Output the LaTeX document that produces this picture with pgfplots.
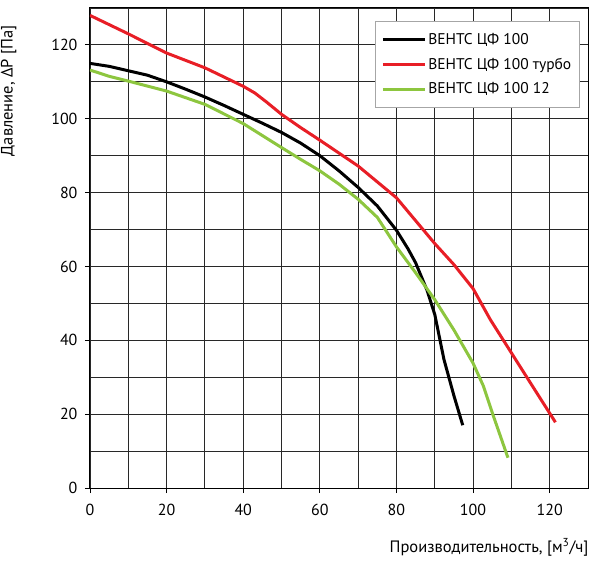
\documentclass[border=0pt]{standalone}
\usepackage{pgfplots}
\pgfplotsset{compat=1.18}
\usepackage{fontspec}
\setmainfont{PT Sans}
\definecolor{cred}{RGB}{232,30,38}
\definecolor{cgreen}{RGB}{141,198,63}
\definecolor{cgrid}{RGB}{40,40,40}
\begin{document}
\begin{tikzpicture}
\path[use as bounding box] (-90pt,-72pt) rectangle (510pt,488pt);
\begin{axis}[
  at={(0pt,0pt)}, anchor=south west,
  scale only axis, width=498pt, height=480pt,
  xmin=0, xmax=130, ymin=0, ymax=130,
  xtick={0,20,...,120}, ytick={0,20,...,120},
  minor xtick={10,30,...,130}, minor ytick={10,30,...,130},
  grid=both,
  major grid style={cgrid, line width=0.9pt},
  minor grid style={cgrid, line width=0.9pt},
  axis line style={black, line width=1pt},
  tick align=outside, xtick pos=left, ytick pos=left,
  major tick length=5pt, minor tick length=0pt,
  tick style={black, line width=0.9pt},
  /pgf/number format/assume math mode=true,
  ticklabel style={font=\fontsize{16}{18}\selectfont},
  xticklabel style={yshift=-8pt},
  yticklabel style={xshift=-4pt},
  xlabel={Производительность, [м\textsuperscript{3}/ч]},
  ylabel={Давление, ΔP [Па]},
  label style={font=\fontsize{16.5}{18}\selectfont},
  xlabel style={at={(rel axis cs:1,0)}, anchor=north east, yshift=-47pt, xshift=4pt},
  ylabel style={at={(rel axis cs:0,1)}, anchor=south east, rotate=0, yshift=70pt, xshift=-14pt},
  legend style={at={(axis description cs:0.572,0.973)}, anchor=north west,
    draw=gray!70, line width=0.8pt, font=\fontsize{15.5}{17}\selectfont,
    inner xsep=6pt, inner ysep=10pt, row sep=8pt, cells={anchor=west}},
  legend image code/.code={\draw[#1, line width=3pt] (0pt,0pt) -- (42pt,0pt);},
  every axis plot/.append style={line width=3pt, line join=round},
]
\addplot[black] coordinates {
(0,115) (5,114.2) (10,113) (15,111.8) (20,110) (25,108) (30,105.9) (35,103.6)
(40,101.2) (45,98.8) (50,96.3) (55,93.4) (60,90) (65,85.9) (70,81.4) (75,76.4)
(80,69.8) (83,64.8) (85,61) (88,53.5) (90,47) (92.4,34.8) (95,25) (97.3,17)};
\addlegendentry{ВЕНТС ЦФ 100}
\addplot[cred] coordinates {
(0,128) (10,123) (20,117.8) (30,113.8) (40,108.8) (43,107) (46,104.6) (50,101.2) (55,97.6)
(60,94.2) (70,87.2) (80,78.6) (90,66.2) (95,60.5) (100,54) (104.5,45.6) (110,36.6)
(115.5,27.6) (121.5,17.8)};
\addlegendentry{ВЕНТС ЦФ 100 турбо}
\addplot[cgreen] coordinates {
(0,113.2) (5,111.5) (10,110.2) (20,107.5) (30,103.9) (40,98.7) (50,92.2) (55,89)
(60,85.9) (65,82.3) (70,78.2) (75,73.3) (80,65.3) (85,58.3) (90,51) (95,42.8)
(100,33.8) (102.7,27.6) (105.3,19.5) (109.1,8.2)};
\addlegendentry{ВЕНТС ЦФ 100 12}
\end{axis}
\end{tikzpicture}
\end{document}
